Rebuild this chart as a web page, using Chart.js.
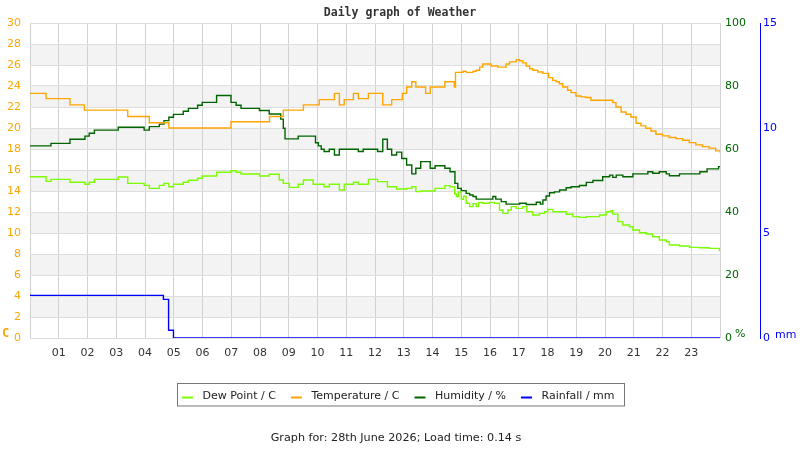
<!DOCTYPE html>
<html>
<head>
<meta charset="utf-8">
<script src="https://cdn.jsdelivr.net/npm/chart.js@4.4.1/dist/chart.umd.min.js"></script>
<style>
  html, body { margin: 0; padding: 0; background: #fff; }
  #wrap { width: 800px; height: 450px; }
</style>
</head>
<body>
<div id="wrap"><canvas id="weatherChart" width="800" height="450"></canvas></div>
<script>
// Daily weather readings, change points in hours since midnight
const tempHours = [0, 0.56, 1.39, 1.89, 3.40, 4.15, 4.83, 6.99, 8.33, 8.81, 9.51, 10.06, 10.59, 10.76, 10.93,
  11.25, 11.42, 11.77, 12.27, 12.58, 12.95, 13.10, 13.28, 13.42, 13.76, 13.92, 14.43, 14.76, 14.80, 15.06,
  15.17, 15.41, 15.52, 15.64, 15.75, 16.04, 16.27, 16.56, 16.68, 16.91, 17.03, 17.14, 17.26, 17.38, 17.49,
  17.66, 17.84, 18.04, 18.18, 18.30, 18.41, 18.53, 18.70, 18.82, 18.99, 19.17, 19.34, 19.51, 20.27, 20.38,
  20.56, 20.73, 20.90, 21.08, 21.25, 21.42, 21.60, 21.77, 22.00, 22.23, 22.47, 22.70, 22.93, 23.16, 23.39,
  23.62, 23.85, 24];
const tempValues = [23.3, 22.8, 22.2, 21.7, 21.1, 20.5, 20.0, 20.6, 21.1, 21.7, 22.2, 22.7, 23.3, 22.2, 22.7,
  23.3, 22.8, 23.3, 22.2, 22.7, 23.3, 23.9, 24.4, 23.9, 23.3, 23.9, 24.4, 23.9, 25.3, 25.4,
  25.3, 25.4, 25.5, 25.8, 26.1, 25.9, 25.8, 26.1, 26.3, 26.5, 26.4, 26.2, 25.9, 25.65, 25.5,
  25.33, 25.2, 24.8, 24.54, 24.41, 24.22, 23.9, 23.59, 23.37, 23.05, 22.96, 22.9, 22.64, 22.42, 22.0,
  21.53, 21.31, 21.05, 20.45, 20.2, 19.98, 19.72, 19.41, 19.25, 19.09, 18.99, 18.84, 18.61, 18.39, 18.23,
  18.08, 17.82, 17.66];

const dewHours = [0, 0.56, 0.73, 1.39, 1.91, 2.06, 2.24, 3.07, 3.40, 3.97, 4.15, 4.50, 4.66, 4.83, 4.99,
  5.33, 5.51, 5.83, 5.99, 6.49, 6.99, 7.17, 7.34, 7.98, 8.32, 8.67, 8.81, 9.02, 9.33, 9.51,
  9.85, 10.23, 10.41, 10.76, 10.93, 11.25, 11.42, 11.77, 12.09, 12.43, 12.75, 13.10, 13.28, 13.42, 13.59,
  14.09, 14.43, 14.60, 14.77, 14.83, 14.90, 15.00, 15.08, 15.17, 15.29, 15.41, 15.52, 15.60, 15.75, 15.98,
  16.16, 16.33, 16.45, 16.62, 16.74, 16.91, 17.14, 17.28, 17.49, 17.72, 17.90, 18.01, 18.19, 18.65, 18.88,
  19.11, 19.35, 19.81, 20.04, 20.21, 20.27, 20.45, 20.62, 20.85, 20.97, 21.20, 21.43, 21.66, 21.89, 22.13,
  22.24, 22.59, 22.94, 23.29, 23.63, 23.98, 24];
const dewValues = [15.36, 14.92, 15.11, 14.83, 14.64, 14.83, 15.11, 15.33, 14.73, 14.54, 14.25, 14.54, 14.73, 14.41, 14.64,
  14.83, 15.02, 15.21, 15.43, 15.78, 15.93, 15.78, 15.62, 15.43, 15.59, 15.05, 14.73, 14.35, 14.64, 15.05,
  14.64, 14.41, 14.64, 14.10, 14.64, 14.83, 14.64, 15.11, 14.89, 14.41, 14.19, 14.25, 14.41, 13.94, 14.0,
  14.25, 14.51, 14.41, 13.7, 13.46, 13.9, 13.21, 13.5, 12.83, 12.51, 12.8, 12.51, 12.9, 12.83, 12.92,
  12.83, 12.19, 11.87, 12.19, 12.51, 12.35, 12.51, 12.03, 11.71, 11.87, 12.03, 12.25, 12.03, 11.78, 11.56,
  11.49, 11.56, 11.71, 12.03, 12.13, 11.8, 11.08, 10.76, 10.6, 10.29, 10.03, 9.9, 9.65, 9.33, 9.17,
  8.86, 8.76, 8.63, 8.6, 8.54, 8.32, 8.32];

const humHours = [0, 0.73, 1.39, 1.91, 2.06, 2.24, 3.07, 3.97, 4.15, 4.50, 4.66, 4.83, 4.99, 5.33, 5.51,
  5.83, 5.99, 6.49, 6.99, 7.17, 7.34, 7.98, 8.32, 8.72, 8.81, 8.87, 9.33, 9.93, 10.03, 10.13,
  10.23, 10.41, 10.59, 10.76, 11.42, 11.59, 12.09, 12.27, 12.43, 12.58, 12.75, 12.93, 13.10, 13.28, 13.42,
  13.59, 13.92, 14.09, 14.43, 14.61, 14.78, 14.88, 15.00, 15.17, 15.29, 15.41, 15.52, 16.10, 16.20, 16.39,
  16.56, 17.03, 17.26, 17.61, 17.75, 17.84, 17.95, 18.07, 18.24, 18.42, 18.65, 18.82, 19.11, 19.35, 19.58,
  19.92, 20.16, 20.27, 20.39, 20.62, 20.97, 21.49, 21.66, 21.89, 22.13, 22.24, 22.59, 23.05, 23.30, 23.55,
  23.95, 24];
const humValues = [61.0, 61.8, 63.1, 64.1, 65.0, 66.0, 66.9, 66.0, 67.1, 67.9, 69.0, 70.1, 71.0, 72.0, 72.9,
  73.9, 74.8, 77.0, 74.8, 73.9, 72.9, 72.2, 71.1, 69.5, 66.6, 63.2, 64.1, 62.0, 61.0, 59.9,
  59.2, 59.9, 58.1, 59.9, 59.2, 59.9, 59.2, 63.1, 59.9, 58.1, 59.0, 57.0, 54.9, 52.1, 53.9,
  56.0, 53.9, 54.7, 53.9, 52.8, 49.1, 47.5, 46.8, 45.9, 45.4, 44.9, 44.1, 44.9, 44.1, 43.3,
  42.5, 42.8, 42.4, 43.1, 42.5, 43.8, 45.1, 46.1, 46.4, 47.0, 47.7, 48.0, 48.4, 49.4, 50.0,
  51.2, 51.7, 51.0, 51.7, 51.2, 52.1, 52.8, 52.3, 52.8, 52.1, 51.5, 52.1, 52.1, 52.8, 53.7,
  54.4, 54.4];

const rainHours = [0, 4.64, 4.82, 4.99, 24];
const rainValues = [2.03, 1.84, 0.37, 0, 0];

const seriesNames = ['Dew Point / C', 'Temperature / C', 'Humidity / %', 'Rainfall / mm'];
const seriesColors = ['#7CFC00', '#FFA500', '#006400', '#0000FF'];
const bandStarts = [2, 6, 10, 14, 18, 22, 26];

function toPoints(hours, values) {
    return hours.map((h, i) => ({ x: h, y: values[i] }));
}

const decorPlugin = {
    id: 'decor',
    beforeDraw(chart) {
        const ctx = chart.ctx;
        const a = chart.chartArea;
        const y = chart.scales.y;
        ctx.save();
        ctx.fillStyle = '#ffffff';
        ctx.fillRect(0, 0, chart.width, chart.height);
        ctx.fillStyle = '#f3f3f3';
        bandStarts.forEach(v => {
            const top = y.getPixelForValue(v + 2);
            const bot = y.getPixelForValue(v);
            ctx.fillRect(a.left, top, a.right - a.left, bot - top);
        });
        ctx.restore();
    },
    afterDraw(chart) {
        const ctx = chart.ctx;
        ctx.save();
        // title
        ctx.fillStyle = '#333';
        ctx.font = 'bold 11.5px "DejaVu Sans Mono"';
        ctx.textAlign = 'center';
        ctx.textBaseline = 'middle';
        ctx.fillText('Daily graph of Weather', 400, 13);

        // axis units
        ctx.textAlign = 'left';
        ctx.font = 'bold 12px "DejaVu Sans Mono"';
        ctx.fillStyle = '#FFA500';
        ctx.fillText('C', 2, 334);
        ctx.font = '11px "DejaVu Sans"';
        ctx.fillStyle = '#006400';
        ctx.fillText('%', 735, 334);
        ctx.fillStyle = '#0000FF';
        ctx.fillText('mm', 775, 335);

        // legend box
        ctx.strokeStyle = '#777';
        ctx.lineWidth = 1;
        ctx.strokeRect(177.5, 383.5, 447, 22.5);
        ctx.font = '11px "DejaVu Sans"';
        ctx.textBaseline = 'middle';
        let x = 182;
        seriesNames.forEach((name, i) => {
            ctx.strokeStyle = seriesColors[i];
            ctx.lineWidth = 2;
            ctx.beginPath();
            ctx.moveTo(x, 397.5);
            ctx.lineTo(x + 11, 397.5);
            ctx.stroke();
            ctx.fillStyle = '#222';
            ctx.fillText(name, x + 20.5, 396);
            x += 20.5 + ctx.measureText(name).width + 15;
        });

        // footer
        ctx.textAlign = 'center';
        ctx.fillStyle = '#222';
        ctx.font = '11.2px "DejaVu Sans"';
        ctx.fillText('Graph for: 28th June 2026; Load time: 0.14 s', 396, 438);
        ctx.restore();
    }
};

Chart.defaults.font.family = '"DejaVu Sans"';
Chart.defaults.font.size = 11;

// horizontal at the previous value, then vertical at the next change point
const lineStyle = { stepped: 'before', pointRadius: 0, borderWidth: 1.4, fill: false, tension: 0 };

new Chart(document.getElementById('weatherChart'), {
    type: 'line',
    data: {
        datasets: [
            Object.assign({ label: seriesNames[0], data: toPoints(dewHours, dewValues), borderColor: seriesColors[0], yAxisID: 'y' }, lineStyle),
            Object.assign({ label: seriesNames[1], data: toPoints(tempHours, tempValues), borderColor: seriesColors[1], yAxisID: 'y' }, lineStyle),
            Object.assign({ label: seriesNames[2], data: toPoints(humHours, humValues), borderColor: seriesColors[2], yAxisID: 'y1' }, lineStyle),
            Object.assign({ label: seriesNames[3], data: toPoints(rainHours, rainValues), borderColor: seriesColors[3], yAxisID: 'y2' }, lineStyle)
        ]
    },
    options: {
        responsive: false,
        animation: false,
        devicePixelRatio: 1,
        layout: { padding: { top: 23, left: 0, right: 0, bottom: 82 } },
        plugins: {
            legend: { display: false },
            title: { display: false },
            tooltip: { enabled: false }
        },
        scales: {
            x: {
                type: 'linear',
                min: 0,
                max: 24,
                afterFit: s => { s.height = 30; },
                border: { display: false },
                grid: { color: '#d2d2d2', drawTicks: false },
                ticks: {
                    stepSize: 1,
                    padding: 9,
                    color: '#333',
                    maxRotation: 0,
                    autoSkip: false,
                    callback: v => (v > 0 && v < 24) ? String(v).padStart(2, '0') : ''
                }
            },
            y: {
                position: 'left',
                min: 0,
                max: 30,
                afterFit: s => { s.width = 30; },
                border: { display: false },
                grid: { color: '#dddddd', drawTicks: false },
                ticks: { stepSize: 2, padding: 9, color: '#FFA500' }
            },
            y1: {
                position: 'right',
                min: 0,
                max: 100,
                weight: 0,
                afterFit: s => { s.width = 40; },
                border: { display: false },
                grid: { display: false, drawTicks: false },
                ticks: { stepSize: 20, padding: 5, color: '#006400' }
            },
            y2: {
                position: 'right',
                min: 0,
                max: 15,
                weight: 1,
                afterFit: s => { s.width = 40; },
                border: { display: true, color: '#0000FF', width: 1 },
                grid: { display: false, drawTicks: false },
                ticks: { stepSize: 5, padding: 3, color: '#0000FF' }
            }
        }
    },
    plugins: [decorPlugin]
});
</script>
</body>
</html>
